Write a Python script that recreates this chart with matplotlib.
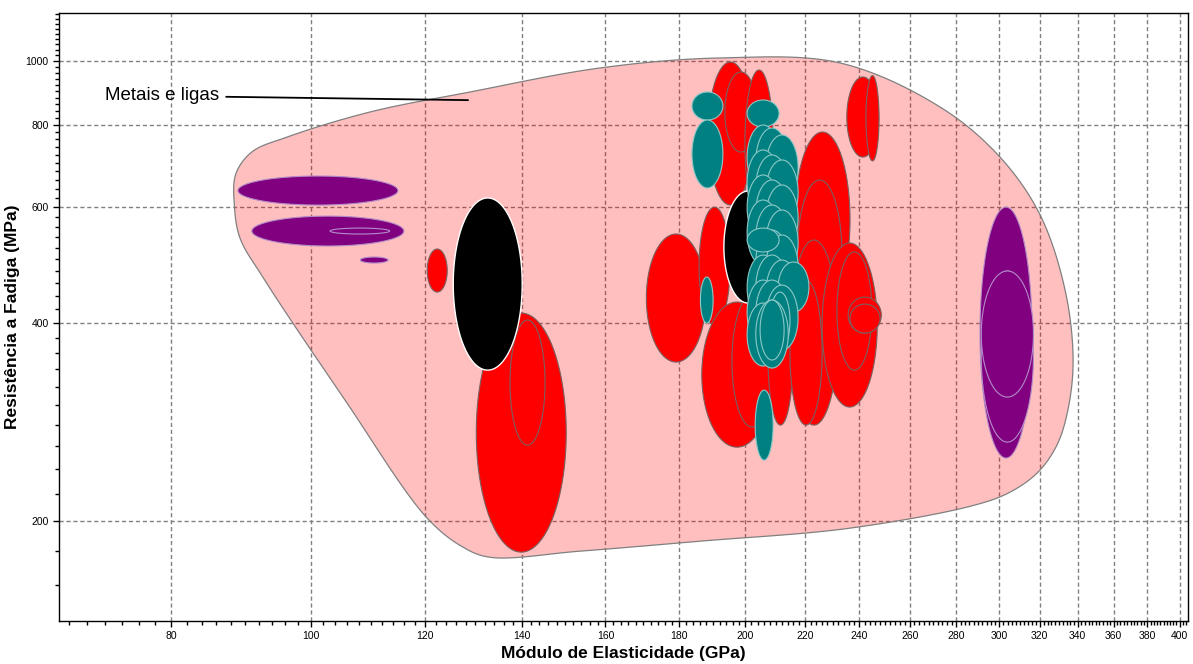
import numpy as np
import matplotlib.pyplot as plt

plt.rcParams['font.family'] = ['Liberation Sans', 'DejaVu Sans']

# Envelope of the "Metais e ligas" family (E in GPa, S in MPa), traced clockwise
env_E = [88.5, 88.7, 91.0, 96.3, 109.9, 128.9, 158.6, 192.1, 232.7, 272.9, 300.3, 320.2,
         333.2, 337.5, 334.7, 328.9, 319.1, 305.2, 288.5, 236.4, 186.1, 153.6, 133.1, 127.5,
         120.4, 105.6, 92.7, 89.3]
env_S = [604.2, 673.3, 727.3, 766.5, 836.6, 897.2, 975.8, 1010.6, 993.0, 851.4, 714.6, 583.4,
         448.7, 351.3, 294.9, 260.9, 237.3, 221.3, 211.5, 195.1, 186.4, 180.0, 176.2, 182.5,
         202.0, 305.3, 468.0, 538.3]

# Material bubbles: (E_min, E_max, S_min, S_max)
purple = [
    (89.0, 114.9, 604.1, 668.7),
    (91.0, 116.0, 523.5, 581.2),
    (103.1, 113.4, 545.9, 557.4),
    (108.2, 113.1, 493.2, 503.7),
    (290.9, 316.1, 249.3, 599.8),
    (291.5, 316.8, 263.6, 479.7),
    (291.5, 316.8, 308.6, 479.7),
]

red = [
    (120.4, 124.3, 445.6, 518.0),
    (130.2, 150.3, 179.4, 414.0),
    (137.4, 145.3, 260.8, 404.0),
    (170.8, 187.8, 348.8, 545.9),
    (188.5, 202.4, 604.1, 996.5),
    (193.6, 203.8, 727.3, 962.2),
    (199.9, 209.1, 583.1, 969.0),
    (216.5, 236.4, 422.7, 780.0),
    (217.3, 233.4, 390.3, 659.4),
    (214.8, 231.9, 279.8, 534.5),
    (185.8, 195.2, 396.9, 599.8),
    (186.6, 208.8, 259.0, 430.3),
    (195.8, 208.8, 277.9, 440.9),
    (207.4, 215.8, 279.8, 448.7),
    (214.8, 226.1, 279.8, 464.6),
    (226.1, 246.9, 298.0, 529.0),
    (231.5, 244.8, 339.1, 512.7),
    (235.7, 248.5, 386.0, 437.8),
    (236.4, 248.0, 386.0, 427.2),
    (235.2, 247.5, 714.6, 945.6),
    (242.5, 247.6, 705.0, 950.0),
]

black = [
    (125.5, 140.1, 339.1, 619.3),
    (193.3, 208.8, 428.8, 634.4),
]

teal = [
    (183.7, 193.0, 813.4, 897.2),
    (183.7, 193.0, 641.2, 813.4),
    (200.6, 211.1, 793.7, 872.4),
    (186.2, 190.0, 399.7, 469.6),
    (203.2, 209.1, 247.5, 316.2),
    # dense column around 200-220 GPa
    (200.6, 211.1, 636.8, 799.2),
    (203.4, 214.2, 625.7, 791.0),
    (206.7, 217.6, 614.9, 772.0),
    (200.6, 211.1, 583.4, 732.5),
    (203.4, 214.2, 573.3, 719.8),
    (206.7, 217.6, 563.3, 707.3),
    (200.6, 211.1, 534.5, 671.1),
    (203.4, 214.2, 525.3, 659.5),
    (206.7, 217.6, 516.1, 648.0),
    (200.6, 211.1, 489.7, 614.9),
    (203.4, 214.2, 481.2, 604.2),
    (206.7, 217.6, 472.9, 593.7),
    (203.4, 214.2, 440.9, 553.6),
    (206.7, 217.6, 433.3, 544.0),
    (200.6, 211.1, 404.0, 507.2),
    (203.4, 214.2, 404.0, 507.2),
    (206.7, 217.6, 397.0, 498.4),
    (210.8, 221.4, 415.4, 495.0),
    (200.6, 211.1, 370.2, 464.7),
    (203.4, 214.2, 370.2, 464.7),
    (206.7, 217.6, 363.8, 456.6),
    (208.1, 214.8, 363.8, 445.6),
    (200.6, 211.1, 344.0, 428.8),
    (203.4, 214.2, 341.6, 433.3),
    (204.8, 212.8, 351.3, 433.3),
    (200.6, 211.1, 512.7, 557.4),
]

x_major = list(range(80, 401, 20))
y_major = [200, 400, 600, 800, 1000]

# pixels per decade on each axis, used to measure distances along the envelope
PX_X, PX_Y = 1443.0, 658.0


def closed_spline(xs, ys, n=40):
    # centripetal Catmull-Rom through the points, in log space
    P = np.column_stack([np.log10(xs) * PX_X, np.log10(ys) * PX_Y])
    m = len(P)
    out = []
    for i in range(m):
        p0, p1, p2, p3 = P[i - 1], P[i], P[(i + 1) % m], P[(i + 2) % m]
        t0 = 0.0
        t1 = t0 + np.linalg.norm(p1 - p0) ** 0.5
        t2 = t1 + np.linalg.norm(p2 - p1) ** 0.5
        t3 = t2 + np.linalg.norm(p3 - p2) ** 0.5
        t = np.linspace(t1, t2, n, endpoint=False)[:, None]
        a1 = (t1 - t) / (t1 - t0) * p0 + (t - t0) / (t1 - t0) * p1
        a2 = (t2 - t) / (t2 - t1) * p1 + (t - t1) / (t2 - t1) * p2
        a3 = (t3 - t) / (t3 - t2) * p2 + (t - t2) / (t3 - t2) * p3
        b1 = (t2 - t) / (t2 - t0) * a1 + (t - t0) / (t2 - t0) * a2
        b2 = (t3 - t) / (t3 - t1) * a2 + (t - t1) / (t3 - t1) * a3
        out.append((t2 - t) / (t2 - t1) * b1 + (t - t1) / (t2 - t1) * b2)
    out = np.vstack(out)
    return 10 ** (out[:, 0] / PX_X), 10 ** (out[:, 1] / PX_Y)


def bubble(ax, box, fc, ec, lw=0.8, z=3):
    e0, e1, s0, s1 = box
    cx, rx = (np.log10(e0) + np.log10(e1)) / 2, (np.log10(e1) - np.log10(e0)) / 2
    cy, ry = (np.log10(s0) + np.log10(s1)) / 2, (np.log10(s1) - np.log10(s0)) / 2
    t = np.linspace(0, 2 * np.pi, 200)
    ax.fill(10 ** (cx + rx * np.cos(t)), 10 ** (cy + ry * np.sin(t)),
            facecolor=fc, edgecolor=ec, linewidth=lw, zorder=z)


fig = plt.figure(figsize=(11.93, 6.64), dpi=100)
ax = fig.add_axes([0.0495, 0.0648, 0.9464, 0.9157])
ax.set_xscale('log')
ax.set_yscale('log')
ax.set_xlim(66.9, 405.5)
ax.set_ylim(141, 1183)

# envelope
ex, ey = closed_spline(env_E, env_S)
ax.fill(ex, ey, facecolor=(1, 0, 0, 0.25), edgecolor='#808080', linewidth=0.9, zorder=2)

for b in purple:
    bubble(ax, b, '#800080', '#b48cc8', z=3)
for b in red:
    bubble(ax, b, '#ff0000', '#7a6060', z=4)
for b in black:
    bubble(ax, b, 'black', 'white', lw=1.0, z=5)
for b in teal:
    bubble(ax, b, '#008080', '#8cc8c8', z=6)

ax.annotate('Metais e ligas', xy=(128.5, 872), xytext=(72.0, 885),
            fontsize=13.5, va='center', ha='left', zorder=7,
            arrowprops=dict(arrowstyle='-', color='black', lw=1.3, shrinkA=3, shrinkB=0))

# ticks
ax.set_xticks(x_major)
ax.set_xticklabels([str(v) for v in x_major])
ax.set_xticks([v for v in range(68, 405, 2) if v not in x_major], minor=True)
ax.set_xticklabels([], minor=True)
ax.set_yticks(y_major)
ax.set_yticklabels([str(v) for v in y_major])
ax.set_yticks([v for v in range(160, 1181, 20) if v not in y_major], minor=True)
ax.set_yticklabels([], minor=True)
ax.tick_params(which='both', direction='out', labelsize=7.5, width=1.0)
ax.tick_params(which='major', length=4)
ax.tick_params(which='minor', length=3)

ax.grid(True, which='major', color='#808080', linestyle=(0, (3, 2)), linewidth=1.0, zorder=1)
ax.set_axisbelow(True)
for sp in ax.spines.values():
    sp.set_linewidth(1.0)

ax.set_xlabel('Módulo de Elasticidade (GPa)', fontsize=12.5, fontweight='bold', labelpad=3)
ax.set_ylabel('Resistência a Fadiga (MPa)', fontsize=12.5, fontweight='bold', labelpad=4)

fig.savefig('out.png', dpi=100)
